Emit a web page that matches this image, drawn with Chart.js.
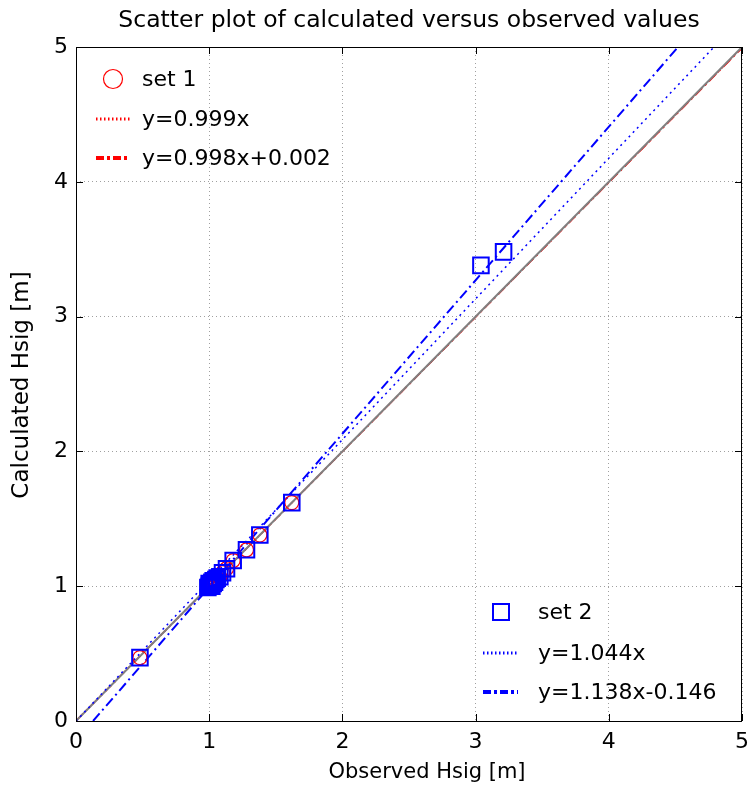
<!DOCTYPE html>
<html>
<head>
<meta charset="utf-8">
<script src="https://cdn.jsdelivr.net/npm/chart.js@4.4.0/dist/chart.umd.min.js"></script>
<style>
  html, body { margin: 0; padding: 0; background: #fff; }
  #wrap { width: 755px; height: 801px; }
</style>
</head>
<body>
<div id="wrap"><canvas id="scatterChart" width="755" height="801"></canvas></div>
<script>
// --- data ---
const tickValues = [0, 1, 2, 3, 4, 5];

// set 1 (red circles)
const set1Obs  = [0.48, 0.99, 1.00, 1.00, 1.01, 1.02, 1.02, 1.03, 1.03, 1.04, 1.05, 1.06, 1.08, 1.10, 1.13, 1.18, 1.28, 1.38, 1.62];
const set1Calc = [0.47, 0.99, 1.00, 1.02, 1.01, 1.00, 1.03, 1.02, 1.04, 1.03, 1.05, 1.06, 1.07, 1.10, 1.13, 1.19, 1.27, 1.38, 1.62];

// set 2 (blue squares)
const set2Obs  = [0.48, 0.99, 1.00, 1.00, 1.01, 1.02, 1.02, 1.03, 1.03, 1.04, 1.05, 1.06, 1.08, 1.10, 1.13, 1.18, 1.28, 1.38, 1.62, 3.04, 3.21];
const set2Calc = [0.47, 0.99, 1.00, 1.02, 1.01, 1.00, 1.03, 1.02, 1.04, 1.03, 1.05, 1.06, 1.07, 1.10, 1.13, 1.19, 1.27, 1.38, 1.62, 3.38, 3.48];

// line end points (x, y)
const oneToOneX = [0, 5];
const oneToOneY = [0, 5];
const fit1aX = [0, 5];       // y=0.999x
const fit1aY = [0, 4.995];
const fit1bX = [0, 5];       // y=0.998x+0.002
const fit1bY = [0.002, 4.992];
const fit2aX = [0, 4.79];    // y=1.044x
const fit2aY = [0, 5];
const fit2bX = [0.128, 4.52]; // y=1.138x-0.146
const fit2bY = [0, 5];

const legend1Labels = ['set 1', 'y=0.999x', 'y=0.998x+0.002'];
const legend2Labels = ['set 2', 'y=1.044x', 'y=1.138x-0.146'];
const chartTitle = 'Scatter plot of calculated versus observed values';
const xTitle = 'Observed Hsig [m]';
const yTitle = 'Calculated Hsig [m]';

const FONT = 'DejaVu Sans';
const RED = '#ff0000';
const BLUE = '#0000ff';
const GREY = '#808080';

const pts = (xs, ys) => xs.map((x, i) => ({ x: x, y: ys[i] }));

function lineSet(xs, ys, color, width, dash, order) {
    return {
        data: pts(xs, ys),
        showLine: true,
        borderColor: color,
        borderWidth: width,
        borderDash: dash,
        pointRadius: 0,
        fill: false,
        order: order,
    };
}

const datasets = [
    {
        label: 'set 2',
        data: pts(set2Obs, set2Calc),
        pointStyle: 'rect',
        pointRadius: 11,
        borderColor: BLUE,
        backgroundColor: 'rgba(0,0,0,0)',
        borderWidth: 2,
        order: 1,
    },
    {
        label: 'set 1',
        data: pts(set1Obs, set1Calc),
        pointStyle: 'circle',
        pointRadius: 7,
        borderColor: RED,
        backgroundColor: 'rgba(0,0,0,0)',
        borderWidth: 1.2,
        order: 2,
    },
    lineSet(fit2bX, fit2bY, BLUE, 2, [10, 4, 2, 4], 3),
    lineSet(fit2aX, fit2aY, BLUE, 1.5, [2, 4], 4),
    lineSet(oneToOneX, oneToOneY, GREY, 2, [], 5),
    lineSet(fit1bX, fit1bY, RED, 1.5, [10, 4, 2, 4], 6),
    lineSet(fit1aX, fit1aY, RED, 1.5, [2, 4], 7),
];

// frame, inward ticks, titles and the two in-plot legends
const decorPlugin = {
    id: 'decor',
    afterDraw(chart) {
        const { ctx, chartArea: a, scales } = chart;
        ctx.save();
        ctx.strokeStyle = '#000';
        ctx.lineWidth = 1;
        ctx.setLineDash([]);
        ctx.strokeRect(a.left + 0.5, a.top + 0.5, a.right - a.left - 1, a.bottom - a.top);
        const tl = 7;
        ctx.beginPath();
        tickValues.forEach(v => {
            const px = Math.round(scales.x.getPixelForValue(v)) + 0.5;
            ctx.moveTo(px, a.bottom); ctx.lineTo(px, a.bottom - tl);
            ctx.moveTo(px, a.top); ctx.lineTo(px, a.top + tl);
            const py = Math.round(scales.y.getPixelForValue(v)) + 0.5;
            ctx.moveTo(a.left, py); ctx.lineTo(a.left + tl, py);
            ctx.moveTo(a.right, py); ctx.lineTo(a.right - tl, py);
        });
        ctx.stroke();

        // titles
        ctx.fillStyle = '#000';
        ctx.textAlign = 'center';
        ctx.textBaseline = 'middle';
        ctx.font = '23.5px "' + FONT + '"';
        ctx.fillText(chartTitle, (a.left + a.right) / 2, 21);
        ctx.font = '21px "' + FONT + '"';
        ctx.fillText(xTitle, 427, 773);
        ctx.font = '23px "' + FONT + '"';
        ctx.save();
        ctx.translate(22, 385);
        ctx.rotate(-Math.PI / 2);
        ctx.fillText(yTitle, 0, 0);
        ctx.restore();

        // legends
        ctx.textAlign = 'left';
        ctx.font = '22px "' + FONT + '"';
        const drawLegend = (labels, color, marker, symX, x0, x1, textX, ys) => {
            ctx.strokeStyle = color;
            ctx.setLineDash([]);
            if (marker === 'circle') {
                ctx.lineWidth = 1.2;
                ctx.beginPath();
                ctx.arc(symX, ys[0], 9.5, 0, Math.PI * 2);
                ctx.stroke();
            } else {
                ctx.lineWidth = 2;
                ctx.strokeRect(symX - 8, ys[0] - 8, 16, 16);
            }
            // dotted sample
            ctx.lineWidth = 3;
            ctx.setLineDash([1.5, 2.5]);
            ctx.beginPath(); ctx.moveTo(x0, ys[1]); ctx.lineTo(x1, ys[1]); ctx.stroke();
            // dash-dot sample
            ctx.lineWidth = 4;
            ctx.setLineDash([8, 3, 3, 3]);
            ctx.beginPath(); ctx.moveTo(x0, ys[2]); ctx.lineTo(x1, ys[2]); ctx.stroke();
            ctx.setLineDash([]);
            ctx.fillStyle = '#000';
            labels.forEach((t, i) => ctx.fillText(t, textX, ys[i] + 1));
        };
        drawLegend(legend1Labels, RED, 'circle', 113, 96, 130, 142, [79, 119, 158]);
        drawLegend(legend2Labels, BLUE, 'rect', 501, 483, 518, 538, [612, 653, 692]);
        ctx.restore();
    }
};

const tickFont = { family: FONT, size: 22 };

new Chart(document.getElementById('scatterChart').getContext('2d'), {
    type: 'scatter',
    data: { datasets: datasets },
    options: {
        responsive: false,
        animation: false,
        layout: { padding: { top: 47, right: 11, left: 0, bottom: 0 } },
        plugins: {
            legend: { display: false },
            title: { display: false },
            tooltip: { enabled: false },
        },
        scales: {
            x: {
                type: 'linear',
                min: 0,
                max: 5,
                afterFit: (s) => { s.height = 80; s.paddingLeft = 0; s.paddingRight = 0; },
                afterBuildTicks: (s) => { s.ticks = tickValues.map(v => ({ value: v })); },
                ticks: { color: '#000', font: tickFont, padding: 8 },
                grid: { color: '#a0a0a0', lineWidth: 1, drawTicks: false },
                border: { display: false, dash: [1, 3] },
            },
            y: {
                type: 'linear',
                min: 0,
                max: 5,
                afterFit: (s) => { s.width = 76; s.paddingTop = 0; s.paddingBottom = 0; },
                afterBuildTicks: (s) => { s.ticks = tickValues.map(v => ({ value: v })); },
                ticks: { color: '#000', font: tickFont, padding: 8 },
                grid: { color: '#a0a0a0', lineWidth: 1, drawTicks: false },
                border: { display: false, dash: [1, 3] },
            },
        },
    },
    plugins: [decorPlugin],
});
</script>
</body>
</html>
